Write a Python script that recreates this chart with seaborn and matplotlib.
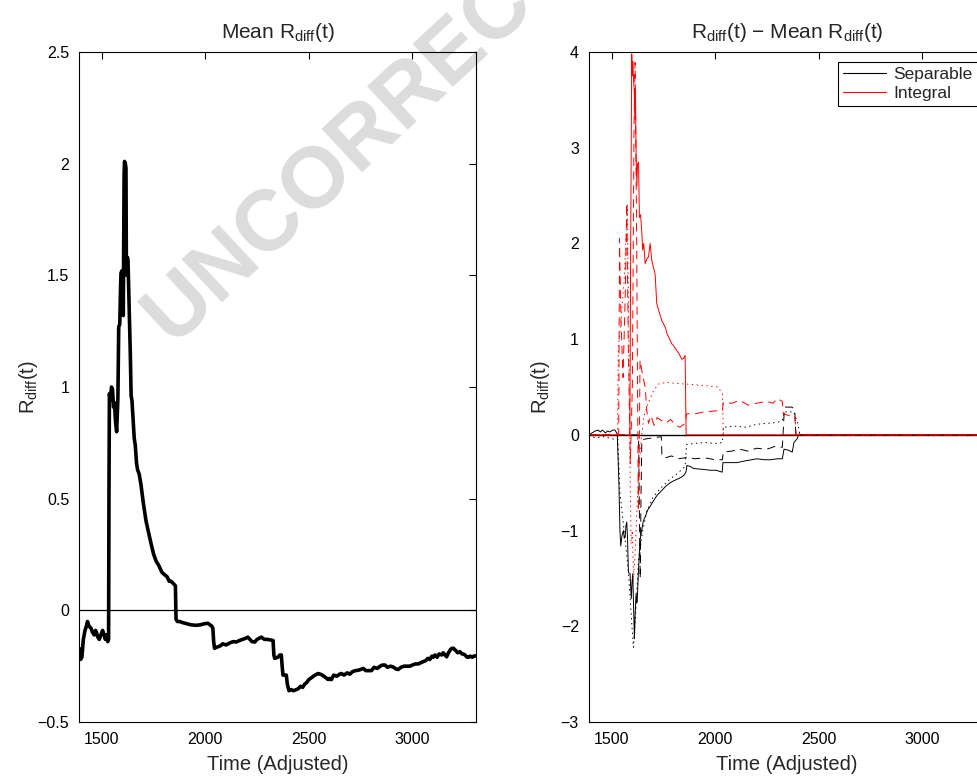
"""Mean R_diff(t) and per-subject deviations from the mean."""

import matplotlib
matplotlib.use("Agg")
import matplotlib.pyplot as plt
from matplotlib.lines import Line2D
import seaborn as sns

sns.set_theme(style="white")
plt.rcParams["font.family"] = ["Liberation Sans", "DejaVu Sans"]
plt.rcParams["mathtext.default"] = "regular"
plt.rcParams["lines.scale_dashes"] = False

# --- Left panel: mean R_diff(t) ---
mean_t = [1390, 1396, 1403, 1410, 1418, 1425, 1430, 1437, 1447, 1455, 1463, 1469, 1474, 1480, 1487,
          1495, 1503, 1510, 1516, 1522, 1528, 1532, 1534, 1536, 1540, 1546, 1551, 1556, 1560, 1566,
          1571, 1574, 1577, 1579, 1581, 1586, 1590, 1592, 1596, 1600, 1603, 1605, 1607, 1609, 1613,
          1616, 1618, 1620, 1623, 1626, 1629, 1632, 1637, 1641, 1645, 1650, 1656, 1661, 1667, 1672,
          1680, 1689, 1700, 1713, 1725, 1737, 1750, 1762, 1775, 1790, 1802, 1815, 1825, 1834, 1845,
          1855, 1858, 1865, 1875, 1890, 1910, 1930, 1955, 1975, 1995, 2012, 2030, 2036, 2040, 2044,
          2055, 2070, 2084, 2100, 2120, 2135, 2149, 2165, 2180, 2195, 2205, 2215, 2225, 2238, 2250,
          2260, 2270, 2285, 2300, 2315, 2327, 2331, 2335, 2350, 2360, 2367, 2371, 2375, 2385, 2391,
          2396, 2404, 2415, 2425, 2440, 2450, 2460, 2470, 2480, 2488, 2500, 2515, 2530, 2545, 2553,
          2565, 2580, 2593, 2600, 2609, 2620, 2635, 2650, 2658, 2670, 2685, 2698, 2710, 2725, 2740,
          2750, 2763, 2775, 2790, 2803, 2815, 2830, 2845, 2855, 2868, 2880, 2895, 2910, 2920, 2932,
          2945, 2960, 2975, 2989, 3000, 3015, 3030, 3040, 3053, 3065, 3075, 3085, 3095, 3102, 3110,
          3120, 3130, 3142, 3150, 3158, 3166, 3175, 3185, 3192, 3199, 3210, 3220, 3230, 3240, 3247,
          3255, 3265, 3273, 3280, 3290, 3297, 3304, 3310]
mean_r = [-0.17, -0.22, -0.21, -0.13, -0.09, -0.07, -0.05, -0.07, -0.08, -0.10, -0.11, -0.09, -0.10,
          -0.12, -0.13, -0.11, -0.09, -0.11, -0.13, -0.11, -0.14, -0.13, 0.55, 0.97, 0.94, 1.00, 0.99,
          0.91, 0.93, 0.84, 0.80, 0.88, 0.95, 1.10, 1.27, 1.28, 1.45, 1.51, 1.52, 1.51, 1.32, 1.60,
          1.95, 2.01, 2.00, 1.98, 1.55, 1.50, 1.58, 1.56, 1.45, 1.33, 1.15, 0.96, 0.94, 0.86, 0.77,
          0.74, 0.66, 0.63, 0.61, 0.56, 0.48, 0.40, 0.35, 0.30, 0.25, 0.22, 0.20, 0.17, 0.16, 0.15,
          0.13, 0.13, 0.12, 0.11, -0.04, -0.05, -0.05, -0.055, -0.06, -0.065, -0.067, -0.065, -0.06,
          -0.058, -0.07, -0.08, -0.14, -0.17, -0.165, -0.16, -0.15, -0.155, -0.145, -0.14, -0.142,
          -0.135, -0.13, -0.125, -0.12, -0.13, -0.14, -0.142, -0.13, -0.125, -0.12, -0.13, -0.13,
          -0.133, -0.135, -0.20, -0.215, -0.21, -0.20, -0.20, -0.25, -0.29, -0.29, -0.29, -0.33,
          -0.36, -0.355, -0.36, -0.355, -0.35, -0.34, -0.345, -0.33, -0.325, -0.31, -0.30, -0.29,
          -0.283, -0.285, -0.29, -0.30, -0.31, -0.305, -0.31, -0.29, -0.295, -0.285, -0.283, -0.29,
          -0.28, -0.286, -0.275, -0.27, -0.268, -0.265, -0.26, -0.27, -0.27, -0.27, -0.255, -0.26,
          -0.25, -0.245, -0.245, -0.255, -0.25, -0.255, -0.262, -0.265, -0.255, -0.25, -0.25, -0.25,
          -0.245, -0.24, -0.24, -0.235, -0.23, -0.225, -0.215, -0.22, -0.205, -0.21, -0.20, -0.21,
          -0.195, -0.20, -0.19, -0.20, -0.208, -0.19, -0.175, -0.17, -0.17, -0.18, -0.19, -0.185,
          -0.195, -0.196, -0.20, -0.21, -0.21, -0.205, -0.21, -0.205, -0.204, -0.205]

# --- Right panel: R_diff(t) - mean, three subjects per group ---
sep_a_t = [1390, 1420, 1435, 1445, 1455, 1470, 1480, 1492, 1505, 1516, 1527, 1535, 1540, 1544, 1550,
           1557, 1561, 1565, 1569, 1573, 1577, 1581, 1589, 1592, 1595, 1598, 1602, 1606, 1610, 1614,
           1618, 1622, 1624, 1630, 1637, 1645, 1653, 1663, 1673, 1688, 1702, 1720, 1743, 1760, 1783,
           1800, 1820, 1839, 1850, 1859, 1864, 1880, 1895, 1912, 1940, 1977, 2005, 2034, 2038, 2070,
           2106, 2150, 2203, 2240, 2268, 2300, 2325, 2333, 2355, 2373, 2381, 2397, 2405, 2420, 3310]
sep_a_r = [0.0, 0.04, 0.05, 0.03, 0.05, 0.02, 0.04, 0.03, 0.05, 0.05, 0.01, -0.5, -1.0, -1.16, -1.05,
           -1.0, -1.08, -1.07, -0.95, -0.91, -1.1, -1.44, -1.45, -1.6, -1.71, -1.55, -1.45, -1.8, -2.13,
           -1.85, -1.66, -1.75, -1.70, -1.4, -1.10, -1.0, -0.90, -0.85, -0.79, -0.74, -0.69, -0.63,
           -0.58, -0.54, -0.50, -0.48, -0.46, -0.44, -0.42, -0.39, -0.32, -0.33, -0.35, -0.355, -0.36,
           -0.37, -0.37, -0.39, -0.29, -0.29, -0.29, -0.27, -0.25, -0.26, -0.26, -0.25, -0.25, -0.15,
           -0.16, -0.18, -0.08, -0.04, 0.01, 0.0, 0.0]

sep_b_t = [1390, 1630, 1634, 1638, 1642, 1646, 1700, 1740, 1743, 1760, 1790, 1820, 1855, 1864, 1900,
           1950, 2000, 2035, 2040, 2080, 2120, 2160, 2200, 2250, 2290, 2325, 2333, 2340, 2370, 2385,
           2390, 3310]
sep_b_r = [0.0, 0.0, -0.8, -1.5, -0.6, -0.05, -0.03, -0.02, -0.22, -0.24, -0.22, -0.25, -0.24, -0.23,
           -0.25, -0.24, -0.26, -0.26, -0.18, -0.17, -0.15, -0.17, -0.14, -0.15, -0.12, -0.13, 0.2,
           0.29, 0.29, 0.27, 0.0, 0.0]

sep_c_t = [1390, 1420, 1460, 1500, 1530, 1540, 1560, 1580, 1595, 1605, 1615, 1630, 1650, 1670, 1700,
           1740, 1783, 1820, 1855, 1862, 1900, 1950, 2000, 2035, 2040, 2100, 2150, 2200, 2250, 2300,
           2325, 2333, 2380, 2400, 2410, 3310]
sep_c_r = [0.0, -0.03, -0.02, -0.04, -0.05, -0.6, -1.0, -1.4, -1.9, -2.22, -1.9, -1.3, -1.0, -0.8,
           -0.65, -0.55, -0.46, -0.40, -0.33, -0.10, -0.09, -0.08, -0.09, -0.08, 0.08, 0.09, 0.08,
           0.11, 0.12, 0.13, 0.15, 0.24, 0.24, 0.12, 0.0, 0.0]

int_a_t = [1390, 1588, 1592, 1597, 1600, 1603, 1606, 1609, 1612, 1615, 1618, 1622, 1625, 1630, 1634,
           1640, 1646, 1650, 1655, 1662, 1670, 1678, 1686, 1694, 1702, 1710, 1718, 1730, 1743, 1751,
           1760, 1767, 1780, 1791, 1800, 1815, 1825, 1839, 1848, 1855, 1860, 3310]
int_a_r = [0.0, 0.0, 2.0, 3.98, 3.75, 3.9, 3.7, 3.6, 3.3, 3.6, 2.94, 2.6, 2.83, 2.85, 2.27, 2.3, 2.1,
           1.93, 2.0, 1.79, 1.84, 1.86, 2.0, 1.82, 1.75, 1.68, 1.37, 1.28, 1.19, 1.16, 1.12, 1.06, 1.0,
           0.95, 0.93, 0.88, 0.85, 0.79, 0.80, 0.83, 0.0, 0.0]

int_b_t = [1390, 1534, 1538, 1545, 1555, 1565, 1573, 1580, 1590, 1600, 1608, 1613, 1617, 1621, 1625,
           1629, 1633, 1637, 1650, 1662, 1670, 1678, 1690, 1705, 1720, 1740, 1760, 1785, 1810, 1830,
           1855, 1862, 1900, 1950, 2000, 2035, 2040, 2080, 2120, 2160, 2200, 2250, 2280, 2300, 2325,
           2330, 2360, 2385, 2392, 3310]
int_b_r = [0.0, 0.0, 2.05, 1.2, 0.6, 1.4, 2.42, 1.0, -0.3, 0.5, 3.2, 3.89, 3.0, 2.0, 0.5, -0.8, -0.3,
           0.78, 0.62, 0.50, 0.25, 0.12, 0.20, 0.10, 0.18, 0.15, 0.12, 0.16, 0.10, 0.08, 0.12, 0.22,
           0.22, 0.24, 0.25, 0.25, 0.34, 0.33, 0.36, 0.31, 0.33, 0.35, 0.33, 0.38, 0.35, 0.22, 0.20,
           0.20, 0.0, 0.0]

int_c_t = [1390, 1528, 1532, 1545, 1560, 1570, 1576, 1582, 1588, 1594, 1600, 1606, 1612, 1620, 1630,
           1645, 1657, 1680, 1700, 1725, 1767, 1800, 1864, 1920, 1970, 2012, 2030, 2035, 2040, 3310]
int_c_r = [0.0, 0.0, 0.9, 1.2, 1.6, 2.1, 2.4, 1.2, -0.2, -1.14, -1.0, -1.52, -1.3, -0.9, -0.4, 0.0,
           0.2, 0.35, 0.45, 0.53, 0.55, 0.54, 0.53, 0.52, 0.51, 0.50, 0.45, 0.43, 0.0, 0.0]

x_ticks = [1500, 2000, 2500, 3000]
left_yticks = [-0.5, 0, 0.5, 1, 1.5, 2, 2.5]
left_ylabels = ["\u22120.5", "0", "0.5", "1", "1.5", "2", "2.5"]
right_yticks = [-3, -2, -1, 0, 1, 2, 3, 4]
right_ylabels = ["\u22123", "\u22122", "\u22121", "0", "1", "2", "3", "4"]

fig = plt.figure(figsize=(9.77, 7.77), dpi=100)
ax1 = fig.add_axes([79 / 977, 55 / 777, 397 / 977, 670 / 777])
ax2 = fig.add_axes([588.7 / 977, 55 / 777, 397 / 977, 670 / 777])

# watermark sits behind both axes (axes backgrounds are transparent)
fig.text(402 / 977, 1 - 100 / 777, "UNCORRECTED", rotation=43, fontsize=62,
         fontweight="bold", color="#dcdcdc", ha="center", va="center",
         rotation_mode="anchor", zorder=-1)

# left
ax1.axhline(0, color="black", lw=0.9)
sns.lineplot(x=mean_t, y=mean_r, ax=ax1, color="black", lw=2.6, estimator=None, sort=False)
ax1.set_ylim(-0.5, 2.5)
ax1.set_yticks(left_yticks)
ax1.set_yticklabels(left_ylabels)
ax1.set_title(r"Mean R$_{diff}$(t)", fontsize=15, pad=10)

# right
ax2.axhline(0, color="black", lw=1.0)
series = [
    (sep_a_t, sep_a_r, "black", "-"),
    (sep_b_t, sep_b_r, "black", (0, (6, 4))),
    (sep_c_t, sep_c_r, "black", (0, (1, 2.5))),
    (int_a_t, int_a_r, "red", "-"),
    (int_b_t, int_b_r, "red", (0, (6, 4))),
    (int_c_t, int_c_r, "red", (0, (1, 2.5))),
]
for t, r, col, ls in series:
    sns.lineplot(x=t, y=r, ax=ax2, color=col, lw=0.7, linestyle=ls,
                 estimator=None, sort=False)
ax2.set_ylim(-3, 4)
ax2.set_yticks(right_yticks)
ax2.set_yticklabels(right_ylabels)
ax2.set_title("R$_{diff}$(t) \u2212 Mean R$_{diff}$(t)", fontsize=15, pad=10)

handles = [Line2D([], [], color="black", lw=0.8), Line2D([], [], color="red", lw=0.8)]
leg = ax2.legend(handles, ["Separable", "Integral"], loc="upper right",
                 bbox_to_anchor=(1 - 8 / 397, 1 - 10 / 670), borderaxespad=0,
                 fontsize=12.5, handlelength=2.5, handletextpad=0.4, labelspacing=0.2,
                 borderpad=0.3, fancybox=False, framealpha=1)
leg.get_frame().set_edgecolor("black")
leg.get_frame().set_linewidth(0.8)

for ax, lp in ((ax1, -1.5), (ax2, 6)):
    ax.set_facecolor("none")
    ax.set_xlim(1389, 3308)
    ax.set_xticks(x_ticks)
    ax.set_xlabel("Time (Adjusted)", fontsize=14.5, labelpad=6)
    ax.set_ylabel("R$_{diff}$(t)", fontsize=14.5, labelpad=lp)
    ax.tick_params(direction="in", top=True, right=True, length=5, width=0.8,
                   labelsize=11.5, pad=7, colors="black")
    for s in ax.spines.values():
        s.set_color("black")
        s.set_linewidth(0.8)

fig.savefig("out.png", dpi=100)
